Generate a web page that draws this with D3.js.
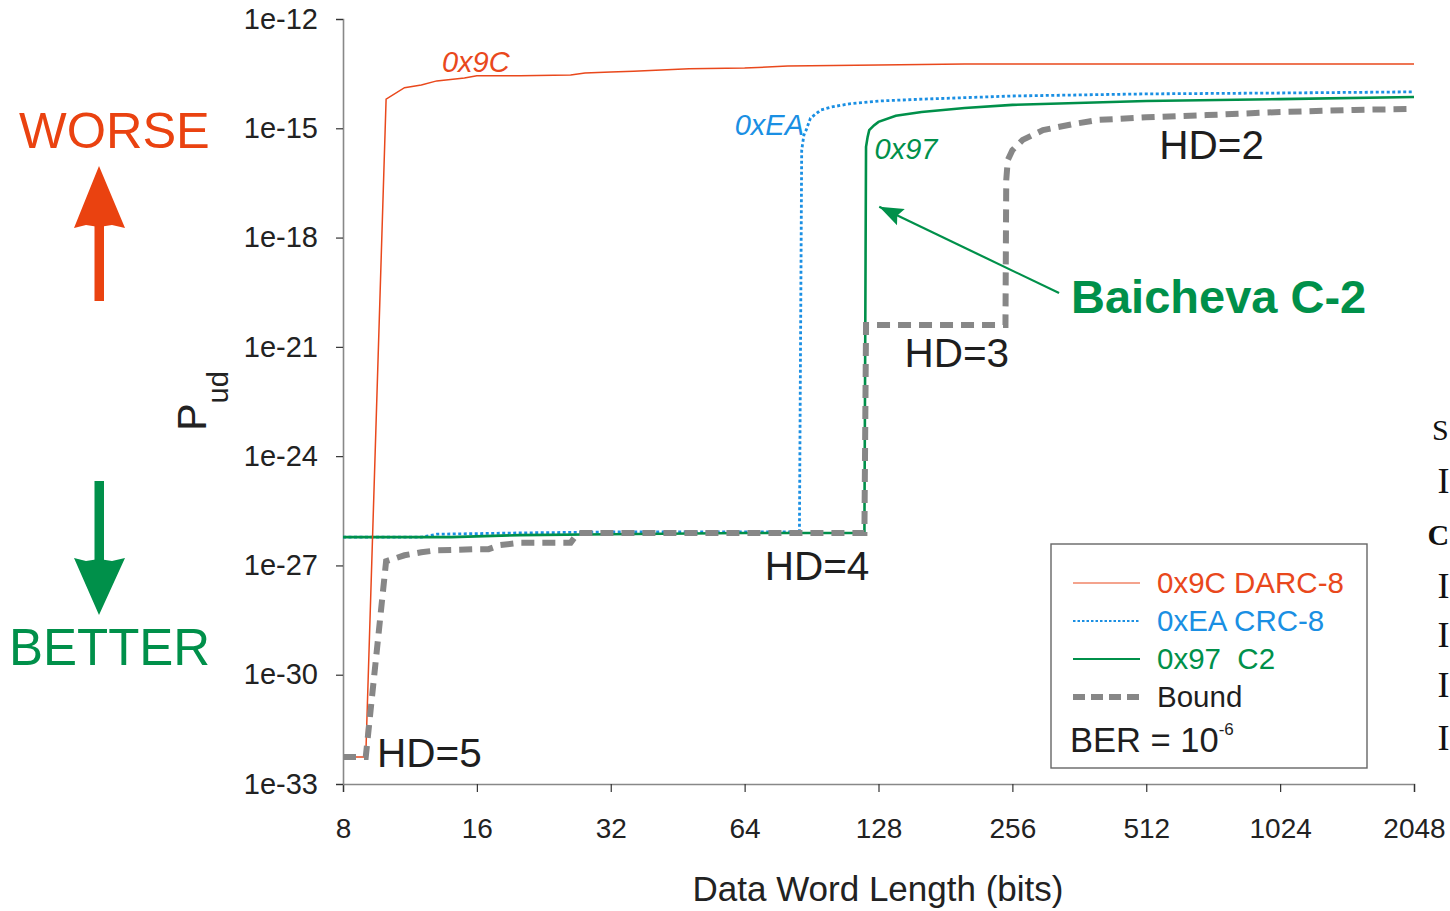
<!DOCTYPE html>
<html>
<head>
<meta charset="utf-8">
<script src="https://cdn.jsdelivr.net/npm/d3@7"></script>
<style>
  html, body { margin: 0; padding: 0; background: #fff; overflow: hidden; }
  svg { display: block; font-family: "Liberation Sans", Arial, sans-serif; }
</style>
</head>
<body>
<script>
// ---------------- DATA ----------------
const xTickValues = [8, 16, 32, 64, 128, 256, 512, 1024, 2048];
const xTickLabels = ["8", "16", "32", "64", "128", "256", "512", "1024", "2048"];
const yTickValues = [1e-12, 1e-15, 1e-18, 1e-21, 1e-24, 1e-27, 1e-30, 1e-33];
const yTickLabels = ["1e-12", "1e-15", "1e-18", "1e-21", "1e-24", "1e-27", "1e-30", "1e-33"];

// 0x9C DARC-8
const darcBits = [8, 9, 10, 11, 12, 13, 15, 16, 20, 26, 28, 32, 36, 48, 64, 80, 128, 200, 2048];
const darcPud  = [5.5e-33, 5.5e-33, 6.3e-15, 1.3e-14, 1.55e-14, 2.0e-14, 2.4e-14, 2.75e-14, 2.75e-14,
                  2.9e-14, 3.3e-14, 3.5e-14, 3.7e-14, 4.3e-14, 4.5e-14, 5.1e-14, 5.5e-14, 5.8e-14, 5.8e-14];

// 0xEA CRC-8
const crcBits = [8, 12, 13, 20, 32, 85, 86, 87, 88, 90, 95, 100, 110, 128, 160, 256, 512, 1024, 2048];
const crcPud  = [6.0e-27, 6.0e-27, 7.2e-27, 7.8e-27, 8.3e-27, 8.3e-27, 2.5e-16, 6.6e-16, 8.9e-16, 1.9e-15,
                 3.2e-15, 3.8e-15, 4.7e-15, 5.6e-15, 6.3e-15, 7.7e-15, 8.8e-15, 9.3e-15, 1.0e-14];

// 0x97 C2
const c2Bits = [8, 14, 20, 32, 64, 119, 120, 121, 122, 125, 128, 140, 160, 200, 256, 512, 1024, 2048];
const c2Pud  = [6.0e-27, 6.0e-27, 6.8e-27, 7.2e-27, 7.8e-27, 7.8e-27, 3.1e-16, 5.8e-16, 8.9e-16, 1.2e-15,
                1.5e-15, 2.2e-15, 2.8e-15, 3.6e-15, 4.4e-15, 5.6e-15, 6.3e-15, 7.2e-15];

// Bound
const boundBits = [8, 9, 10, 11, 12, 13, 16, 17, 18, 20, 26, 27, 119, 120, 247, 248, 250, 256, 270, 300,
                   350, 400, 512, 700, 1024, 1500, 2048];
const boundPud  = [5.5e-33, 5.5e-33, 1.3e-27, 1.9e-27, 2.3e-27, 2.6e-27, 2.8e-27, 2.8e-27, 3.6e-27, 4.2e-27,
                   4.2e-27, 7.8e-27, 7.8e-27, 4.0e-21, 4.0e-21, 3.8e-17, 1.35e-16, 2.5e-16, 4.8e-16, 8.9e-16,
                   1.3e-15, 1.7e-15, 2.0e-15, 2.3e-15, 2.8e-15, 3.2e-15, 3.4e-15];

const seriesNames  = ["0x9C DARC-8", "0xEA CRC-8", "0x97  C2", "Bound"];
const seriesColors = ["#e9481c", "#1a8fe3", "#00904a", "#878787"];

// ---------------- CHART ----------------
const W = 1450, H = 911;
const svg = d3.select("body").append("svg").attr("width", W).attr("height", H);

const x = d3.scaleLog().base(2).domain([8, 2048]).range([343, 1414]);
const y = d3.scaleLog().domain([1e-33, 1e-12]).range([784, 19]);

// axes
const xAxis = d3.axisBottom(x).tickValues(xTickValues)
  .tickFormat((d, i) => xTickLabels[i]).tickSize(8).tickPadding(26);
const gx = svg.append("g").attr("transform", "translate(0,784)").call(xAxis);
gx.select(".domain").attr("stroke", "#888").attr("stroke-width", 1.6);
gx.selectAll(".tick line").attr("stroke", "#333").attr("stroke-width", 1.2);
gx.selectAll(".tick text").attr("font-size", 28).attr("fill", "#222")
  .attr("font-family", "Liberation Sans, Arial, sans-serif");

const yAxis = d3.axisLeft(y).tickValues(yTickValues)
  .tickFormat((d, i) => yTickLabels[i]).tickSize(7).tickPadding(18);
const gy = svg.append("g").attr("transform", "translate(343,0)").call(yAxis);
gy.select(".domain").attr("stroke", "#888").attr("stroke-width", 1.6);
gy.selectAll(".tick line").attr("stroke", "#333").attr("stroke-width", 1.2);
gy.selectAll(".tick text").attr("font-size", 29).attr("fill", "#222")
  .attr("font-family", "Liberation Sans, Arial, sans-serif");

// axis titles
svg.append("text").attr("x", 878).attr("y", 901).attr("text-anchor", "middle")
  .attr("font-size", 35).attr("fill", "#222").text("Data Word Length (bits)");

const yt = svg.append("text").attr("transform", "translate(206,401) rotate(-90)")
  .attr("text-anchor", "middle").attr("fill", "#222");
yt.append("tspan").attr("font-size", 41).text("P");
yt.append("tspan").attr("font-size", 29).attr("dy", 22).text("ud");

// lines
const line = d3.line().x(d => x(d[0])).y(d => y(d[1])).curve(d3.curveLinear);
const zip = (a, b) => a.map((v, i) => [v, b[i]]);

svg.append("path").datum(zip(crcBits, crcPud)).attr("d", line)
  .attr("fill", "none").attr("stroke", seriesColors[1]).attr("stroke-width", 2.8)
  .attr("stroke-dasharray", "3,2.5");
svg.append("path").datum(zip(c2Bits, c2Pud)).attr("d", line)
  .attr("fill", "none").attr("stroke", seriesColors[2]).attr("stroke-width", 2.6);
svg.append("path").datum(zip(darcBits, darcPud)).attr("d", line)
  .attr("fill", "none").attr("stroke", seriesColors[0]).attr("stroke-width", 1.5);
svg.append("path").datum(zip(boundBits, boundPud)).attr("d", line)
  .attr("fill", "none").attr("stroke", seriesColors[3]).attr("stroke-width", 6)
  .attr("stroke-dasharray", "13,8");

// curve labels
svg.append("text").attr("x", x(13.35)).attr("y", y(3.5e-14)).attr("font-size", 29)
  .attr("font-style", "italic").attr("fill", seriesColors[0]).text("0x9C");
svg.append("text").attr("x", x(60.8)).attr("y", y(6.6e-16)).attr("font-size", 29)
  .attr("font-style", "italic").attr("fill", seriesColors[1]).text("0xEA");
svg.append("text").attr("x", x(125.4)).attr("y", y(1.45e-16)).attr("font-size", 29)
  .attr("font-style", "italic").attr("fill", seriesColors[2]).text("0x97");

// HD labels
const hd = [["HD=2", 548, 1.45e-16], ["HD=3", 146.4, 2.8e-22], ["HD=4", 71, 4.0e-28], ["HD=5", 9.54, 2.95e-33]];
hd.forEach(h => {
  svg.append("text").attr("x", x(h[1])).attr("y", y(h[2])).attr("font-size", 40.5)
    .attr("fill", "#1e1e1e").text(h[0]);
});

// Baicheva annotation
const ax1 = x(326), ay1 = y(3.0e-20), ax2 = x(128.5), ay2 = y(7.0e-18);
svg.append("line").attr("x1", ax1).attr("y1", ay1).attr("x2", ax2).attr("y2", ay2)
  .attr("stroke", seriesColors[2]).attr("stroke-width", 2.2);
(function () {
  const ang = Math.atan2(ay2 - ay1, ax2 - ax1);
  const L = 24, Wd = 9;
  const bx = ax2 - L * Math.cos(ang), by = ay2 - L * Math.sin(ang);
  const px = -Math.sin(ang), py = Math.cos(ang);
  svg.append("path")
    .attr("d", `M${ax2},${ay2} L${bx + Wd * px},${by + Wd * py} L${bx + 4 * Math.cos(ang)},${by + 4 * Math.sin(ang)} L${bx - Wd * px},${by - Wd * py} Z`)
    .attr("fill", seriesColors[2]);
})();
svg.append("text").attr("x", 1071).attr("y", 313).attr("font-size", 47).attr("font-weight", "bold")
  .attr("fill", seriesColors[2]).text("Baicheva C-2");

// WORSE / BETTER
svg.append("text").attr("x", 19).attr("y", 148).attr("font-size", 50.5).attr("fill", "#ea4210").text("WORSE");
svg.append("rect").attr("x", 94.5).attr("y", 222).attr("width", 9.5).attr("height", 79).attr("fill", "#ea4210");
svg.append("path").attr("d", "M99,166 L125,228 L112,225 L99,227 L86,225 L74,228 Z").attr("fill", "#ea4210");

svg.append("text").attr("x", 9).attr("y", 665).attr("font-size", 51).attr("fill", "#00904a").text("BETTER");
svg.append("rect").attr("x", 94.5).attr("y", 481).attr("width", 9.5).attr("height", 82).attr("fill", "#00904a");
svg.append("path").attr("d", "M99,615 L125,558 L112,561 L99,559 L86,561 L74,558 Z").attr("fill", "#00904a");

// Legend
const lg = svg.append("g");
lg.append("rect").attr("x", 1051).attr("y", 544).attr("width", 316).attr("height", 224)
  .attr("fill", "#fff").attr("stroke", "#666").attr("stroke-width", 1.4);
const legStyles = [
  { w: 1.2, dash: null },
  { w: 2, dash: "2.5,2" },
  { w: 2, dash: null },
  { w: 6, dash: "12,6" }
];
seriesNames.forEach((nm, i) => {
  const yy = 583 + i * 38;
  lg.append("line").attr("x1", 1073).attr("x2", 1140).attr("y1", yy).attr("y2", yy)
    .attr("stroke", seriesColors[i]).attr("stroke-width", legStyles[i].w)
    .attr("stroke-dasharray", legStyles[i].dash);
  lg.append("text").attr("x", 1157).attr("y", yy + 10).attr("font-size", 29.5)
    .style("white-space", "pre")
    .attr("fill", i === 3 ? "#1e1e1e" : seriesColors[i]).text(nm);
});
const ber = lg.append("text").attr("x", 1070).attr("y", 752).attr("font-size", 34.5).attr("fill", "#1e1e1e");
ber.append("tspan").text("BER = 10");
ber.append("tspan").attr("font-size", 17).attr("dy", -17).text("-6");

// page text fragments visible at the right edge of the reference
const edge = [["S", 1432, 440, "normal", 30], ["I", 1437.5, 493, "normal", 36], ["C", 1427.5, 545, "bold", 30],
              ["I", 1437.5, 598, "normal", 36], ["I", 1437.5, 647, "normal", 36], ["I", 1437.5, 697, "normal", 36],
              ["I", 1437.5, 750, "normal", 36]];
edge.forEach(e => {
  svg.append("text").attr("x", e[1]).attr("y", e[2]).attr("font-size", e[4])
    .attr("font-family", "Liberation Serif, serif").attr("font-weight", e[3])
    .attr("fill", "#111").text(e[0]);
});
</script>
</body>
</html>
